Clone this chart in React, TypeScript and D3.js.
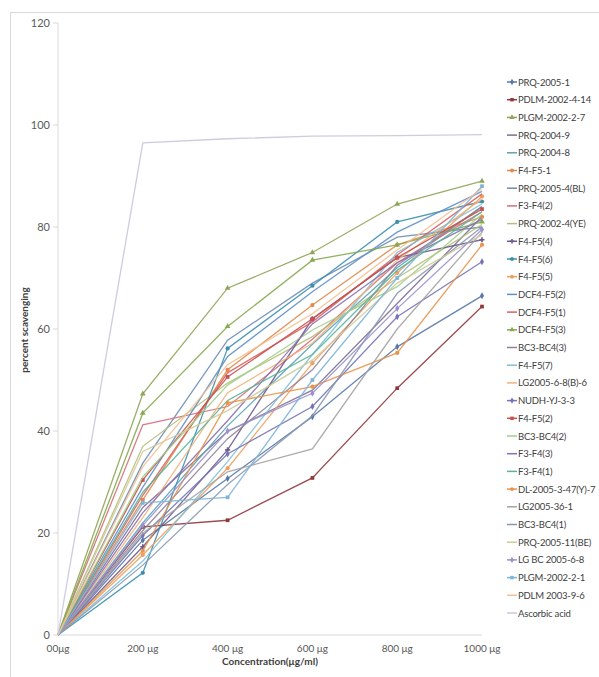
import React, { useEffect, useRef } from 'react'
import * as d3 from 'd3'

// x categories and tick labels
const doses = [0, 200, 400, 600, 800, 1000]
const doseLabels = ['00μg', '200 μg', '400 μg', '600 μg', '800 μg', '1000 μg']
const yTicks = [0, 20, 40, 60, 80, 100, 120]

const seriesNames = [
  'PRQ-2005-1', 'PDLM-2002-4-14', 'PLGM-2002-2-7', 'PRQ-2004-9', 'PRQ-2004-8',
  'F4-F5-1', 'PRQ-2005-4(BL)', 'F3-F4(2)', 'PRQ-2002-4(YE)', 'F4-F5(4)',
  'F4-F5(6)', 'F4-F5(5)', 'DCF4-F5(2)', 'DCF4-F5(1)', 'DCF4-F5(3)',
  'BC3-BC4(3)', 'F4-F5(7)', 'LG2005-6-8(B)-6', 'NUDH-YJ-3-3', 'F4-F5(2)',
  'BC3-BC4(2)', 'F3-F4(3)', 'F3-F4(1)', 'DL-2005-3-47(Y)-7', 'LG2005-36-1',
  'BC3-BC4(1)', 'PRQ-2005-11(BE)', 'LG BC 2005-6-8', 'PLGM-2002-2-1', 'PDLM 2003-9-6',
  'Ascorbic acid',
]

// percent scavenging per series
const seriesValues = [
  [0, 18.6, 30.7, 42.8, 56.5, 66.5],
  [0, 21.2, 22.5, 30.8, 48.4, 64.4],
  [0, 47.3, 68, 75, 84.5, 89],
  [0, 25, 39.9, 48, 65, 82],
  [0, 22, 41, 57, 72, 84],
  [0, 26.5, 52, 64.7, 76.5, 82],
  [0, 33.7, 57.8, 69, 78, 80],
  [0, 41.2, 44.8, 58, 73, 83],
  [0, 37, 49.4, 58.5, 70, 80.5],
  [0, 17.3, 36.3, 62, 74, 77.5],
  [0, 12.2, 56.2, 68.5, 81, 85],
  [0, 15.7, 32.7, 53.3, 71, 86],
  [0, 29, 54.6, 67.3, 79, 87],
  [0, 27.4, 51.4, 61.4, 74.5, 86.5],
  [0, 43.5, 60.5, 73.5, 76.5, 81],
  [0, 20.5, 38.5, 52, 72.5, 84],
  [0, 14.5, 34, 55, 75, 84.5],
  [0, 23, 47.5, 57.2, 73.5, 85.5],
  [0, 19.5, 35.5, 44.8, 62.4, 73.2],
  [0, 30.4, 50.6, 62, 74, 83.5],
  [0, 31, 49, 59.8, 68.3, 82.5],
  [0, 24, 42, 61, 73, 81.5],
  [0, 28, 46, 55, 71.5, 83],
  [0, 16.5, 45.5, 48.7, 55.3, 76.5],
  [0, 20, 32, 36.5, 60, 79],
  [0, 13.7, 29.5, 43, 67, 80],
  [0, 36, 44, 53.9, 69, 78.5],
  [0, 21.5, 40, 47.4, 64, 79.5],
  [0, 25.9, 27, 50, 70, 88],
  [0, 33, 53, 63, 75.5, 87.5],
  [0, 96.5, 97.3, 97.8, 97.9, 98.1],
]

const seriesColors = [
  '#5877a8', '#8e3a3c', '#8fa457', '#7d6f8f', '#5aa3b8',
  '#e08a4e', '#6a8db5', '#d36f78', '#b7be7a', '#6d5a8c',
  '#3d8fb0', '#eea060', '#5f8fc9', '#d9625d', '#86a84e',
  '#8d8399', '#7fc0d8', '#f2b27d', '#7474b8', '#c8504e',
  '#9fcf8a', '#8a6fb0', '#58b39a', '#e8944a', '#a3a3a3',
  '#8898b0', '#cfcb9a', '#9a90cf', '#7fb4da', '#f5c08e',
  '#c9c6de',
]

// which series carry point markers
const seriesMarkers = [
  'diamond', 'square', 'triangle', '', '', 'circle', '', '', '', 'cross',
  'circle', 'circle', '', '', 'triangle', '', '', '', 'diamond', 'square',
  '', '', '', 'circle', '', '', '', 'diamond', 'square', '', '',
]

const symbolTypes = {
  diamond: d3.symbolDiamond,
  square: d3.symbolSquare,
  triangle: d3.symbolTriangle,
  circle: d3.symbolCircle,
  cross: d3.symbolCross,
}

export default function App() {
  const ref = useRef(null)

  useEffect(() => {
    const svg = d3.select(ref.current)
    svg.selectAll('*').remove()

    const x = d3.scalePoint().domain(doses).range([58, 482])
    const y = d3.scaleLinear().domain([0, 120]).range([635, 23])

    // outer frame
    svg.append('rect')
      .attr('x', 10.5).attr('y', 12.5)
      .attr('width', 640).attr('height', 700)
      .attr('fill', 'none').attr('stroke', '#d9d9d9')

    // y axis
    svg.append('line')
      .attr('x1', 58).attr('x2', 58)
      .attr('y1', y(120)).attr('y2', y(0))
      .attr('stroke', '#d9d9d9')
    const yg = svg.append('g')
    yg.selectAll('line').data(yTicks).enter().append('line')
      .attr('x1', 53).attr('x2', 58)
      .attr('y1', d => y(d)).attr('y2', d => y(d))
      .attr('stroke', '#d9d9d9')
    yg.selectAll('text').data(yTicks).enter().append('text')
      .attr('x', 50).attr('y', d => y(d) + 3.5)
      .attr('text-anchor', 'end')
      .style('font-family', 'Lato, sans-serif')
      .style('font-size', '11px')
      .style('fill', '#595959')
      .text(d => d)

    // x axis
    svg.append('line')
      .attr('x1', 58).attr('x2', 482)
      .attr('y1', y(0)).attr('y2', y(0))
      .attr('stroke', '#d9d9d9')
    svg.append('g').selectAll('text').data(doses).enter().append('text')
      .attr('x', d => x(d))
      .attr('y', 652)
      .attr('text-anchor', 'middle')
      .style('font-family', 'Lato, sans-serif')
      .style('font-size', '10px')
      .style('fill', '#595959')
      .text((d, i) => doseLabels[i])

    svg.append('text')
      .attr('x', 270).attr('y', 665)
      .attr('text-anchor', 'middle')
      .style('font-family', 'Lato, sans-serif')
      .style('font-size', '10px')
      .style('font-weight', 'bold')
      .style('fill', '#404040')
      .text('Concentration(μg/ml)')

    svg.append('text')
      .attr('transform', 'translate(28, 330) rotate(-90)')
      .attr('text-anchor', 'middle')
      .style('font-family', 'Lato, sans-serif')
      .style('font-size', '10px')
      .style('font-weight', 'bold')
      .style('fill', '#404040')
      .text('percent scavenging')

    const line = d3.line().x((d, i) => x(doses[i])).y(d => y(d))

    const plot = svg.append('g')
    seriesValues.forEach((vals, s) => {
      plot.append('path')
        .attr('d', line(vals))
        .attr('fill', 'none')
        .attr('stroke', seriesColors[s])
        .attr('stroke-width', 1.3)
        .attr('stroke-opacity', 0.9)
      const m = seriesMarkers[s]
      if (m) {
        plot.selectAll(null).data(vals.slice(1)).enter().append('path')
          .attr('transform', (d, i) => `translate(${x(doses[i + 1])},${y(d)})`)
          .attr('d', d3.symbol().type(symbolTypes[m]).size(14)())
          .attr('fill', seriesColors[s])
      }
    })

    // legend
    const legend = svg.append('g')
    seriesNames.forEach((name, s) => {
      const ly = 82 + s * 17.7
      legend.append('line')
        .attr('x1', 507).attr('x2', 517)
        .attr('y1', ly).attr('y2', ly)
        .attr('stroke', seriesColors[s])
        .attr('stroke-width', 1.5)
      const m = seriesMarkers[s]
      if (m) {
        legend.append('path')
          .attr('transform', `translate(512,${ly})`)
          .attr('d', d3.symbol().type(symbolTypes[m]).size(12)())
          .attr('fill', seriesColors[s])
      }
      legend.append('text')
        .attr('x', 518).attr('y', ly + 3.5)
        .style('font-family', 'Lato, sans-serif')
        .style('font-size', '9.5px')
        .style('letter-spacing', '-0.2px')
        .style('fill', '#404040')
        .text(name)
    })
  }, [])

  return (
    <svg ref={ref} width={599} height={677}
      style={{ position: 'absolute', left: 0, top: 0, background: '#fff' }} />
  )
}
